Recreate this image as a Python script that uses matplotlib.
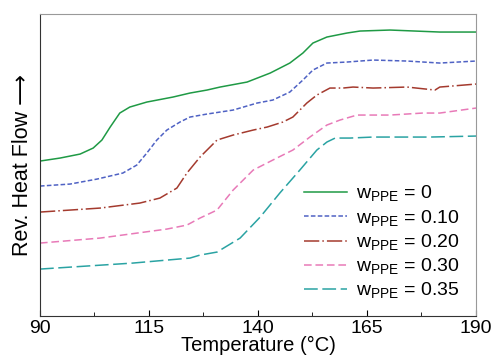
import matplotlib.pyplot as plt

plt.rcParams['font.family'] = ['Liberation Sans', 'DejaVu Sans']
plt.rcParams['mathtext.fontset'] = 'custom'
plt.rcParams['mathtext.rm'] = 'Liberation Sans'

# temperatures (°C) and reversing heat flow (arb. units)
t_0 = [90, 94.6, 99.2, 102.2, 104.2, 106.1, 108.3, 110.6, 114.5, 120.5, 124.4, 128.3,
       131.3, 137.5, 142.8, 147.3, 150.3, 152.6, 155.8, 160.4, 163.4, 170.3, 181.7, 190]
hf_0 = [15.5, 15.8, 16.2, 16.8, 17.6, 18.9, 20.3, 20.9, 21.4, 21.9, 22.3, 22.6,
        22.9, 23.4, 24.3, 25.3, 26.3, 27.3, 27.9, 28.3, 28.5, 28.6, 28.4, 28.4]

t_10 = [90, 96.9, 103.1, 109.0, 112.2, 114.5, 116.8, 119.1, 122.1, 124.4, 128.3, 134.3,
        139.8, 143.4, 147.3, 150.3, 152.6, 155.8, 160.4, 166.4, 174.2, 181.7, 190]
hf_10 = [13.0, 13.2, 13.7, 14.3, 15.1, 16.3, 17.6, 18.6, 19.4, 19.9, 20.2, 20.6,
         21.3, 21.6, 22.4, 23.6, 24.6, 25.3, 25.4, 25.6, 25.5, 25.3, 25.5]

t_20 = [90, 103.8, 112.9, 117.5, 121.4, 123.7, 126.7, 129.0, 130.6, 134.3, 138.9, 142.1,
        145.7, 148.0, 151.2, 153.5, 156.5, 159.5, 161.8, 166.4, 174.2, 180.6, 181.7, 190]
hf_20 = [10.4, 10.8, 11.3, 11.8, 12.8, 14.3, 15.9, 16.9, 17.6, 18.1, 18.6, 18.9,
         19.4, 19.9, 21.3, 22.1, 22.8, 22.8, 22.9, 22.8, 22.9, 22.6, 22.9, 23.2]

t_30 = [90, 103.8, 119.1, 123.7, 126.7, 130.6, 134.3, 138.9, 143.4, 148.0, 151.9, 155.8,
        158.8, 162.7, 170.3, 177.8, 181.7, 190]
hf_30 = [7.3, 7.8, 8.7, 9.1, 9.8, 10.6, 12.6, 14.6, 15.6, 16.6, 17.9, 19.1,
         19.6, 20.1, 20.1, 20.3, 20.3, 20.8]

t_35 = [90, 111.3, 124.4, 126.7, 130.6, 135.9, 140.5, 145.0, 149.6, 153.5, 155.8, 157.7,
        161.1, 166.4, 179.4, 190]
hf_35 = [4.7, 5.3, 5.8, 6.1, 6.4, 7.8, 9.9, 12.3, 14.6, 16.6, 17.4, 17.8,
         17.8, 17.9, 17.9, 18.0]

labels = ['0', '0.10', '0.20', '0.30', '0.35']
xticks = [90, 115, 140, 165, 190]

fig = plt.figure(figsize=(4.93, 3.6), dpi=100)
ax = fig.add_axes([0.0811, 0.122, 0.8844, 0.839])

ax.plot(t_0, hf_0, color='#1f9a45', lw=1.1, ls='-')
ax.plot(t_10, hf_10, color='#4f62c4', lw=1.1, ls=(0, (3, 1.5)))
ax.plot(t_20, hf_20, color='#a43a2e', lw=1.1, ls=(0, (10, 2, 1, 2)))
ax.plot(t_30, hf_30, color='#e87ab8', lw=1.1, ls=(0, (5, 2.5)))
ax.plot(t_35, hf_35, color='#2aa3a3', lw=1.1, ls=(0, (9, 3)))

for line, lab in zip(ax.lines, labels):
    line.set_label(r'w$_{\mathrm{PPE}}$ = ' + lab)

ax.set_xlim(90, 190)
ax.set_ylim(0, 30.2)
ax.set_xticks(xticks)
ax.set_xticks([102.5, 127.5, 152.5, 177.5], minor=True)
ax.set_yticks([])
ax.tick_params(axis='x', which='both', direction='in', labelsize=14, length=4, pad=2.5)
ax.tick_params(axis='x', which='minor', length=3)

ax.spines['top'].set_color('#999999')
ax.spines['right'].set_color('#999999')
ax.spines['left'].set_color('#333333')
ax.spines['bottom'].set_color('#333333')

ax.set_xlabel('Temperature (°C)', fontsize=14.5, labelpad=-0.5)
ax.set_ylabel('Rev. Heat Flow ⟶', fontsize=15.5, labelpad=5)

ax.legend(loc='upper left', bbox_to_anchor=(0.565, 0.495), frameon=False, fontsize=14,
          handlelength=2.2, labelspacing=0.2, handletextpad=0.5)

fig.savefig('out.png', dpi=100)
